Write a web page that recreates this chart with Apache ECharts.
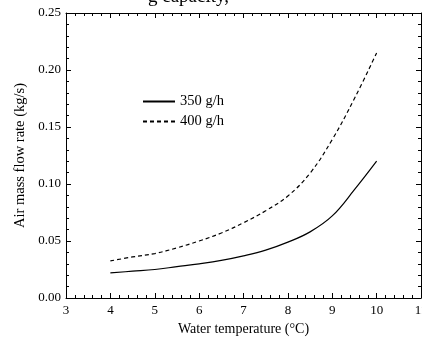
<!DOCTYPE html>
<html>
<head>
<meta charset="utf-8">
<script src="https://cdn.jsdelivr.net/npm/echarts@6/dist/echarts.min.js"></script>
<style>
  html, body { margin: 0; padding: 0; background: #fff; }
  #chart { width: 422px; height: 340px; }
</style>
</head>
<body>
<div id="chart"></div>
<script>
const temps = [4, 4.5, 5, 5.5, 6, 6.5, 7, 7.5, 8, 8.5, 9, 9.5, 10]
const flow350 = [0.022, 0.0235, 0.025, 0.0275, 0.030, 0.033, 0.037, 0.042, 0.049, 0.058, 0.072, 0.095, 0.120]
const flow400 = [0.0325, 0.036, 0.039, 0.044, 0.050, 0.057, 0.066, 0.0765, 0.0895, 0.1095, 0.139, 0.175, 0.215]
const seriesNames = ['350 g/h', '400 g/h']

const font = 'Liberation Serif'
const pair = (xs, ys) => xs.map((x, i) => [x, ys[i]])

const axisCommon = {
  axisLine: { show: true, onZero: false, lineStyle: { color: '#000', width: 1 } },
  axisTick: { show: true, inside: true, length: 5, lineStyle: { color: '#000' } },
  minorTick: { show: true, splitNumber: 5, length: 3, lineStyle: { color: '#000' } },
  splitLine: { show: false },
  minorSplitLine: { show: false }
}

const chart = echarts.init(document.getElementById('chart'))
chart.setOption({
  animation: false,
  textStyle: { fontFamily: font },
  grid: { left: 66, top: 13, right: 1, bottom: 42, outerBoundsMode: 'none', containLabel: false },
  graphic: [{
    type: 'text',
    left: 148, top: -12,
    style: { text: 'g capacity,', font: '19px "Liberation Serif"', fill: '#000' }
  }],
  legend: {
    orient: 'vertical', left: 137, top: 89,
    itemWidth: 32, itemHeight: 14, itemGap: 5,
    itemStyle: { opacity: 0 },
    textStyle: { fontFamily: font, fontSize: 14.5, color: '#000' },
    data: seriesNames
  },
  xAxis: [
    Object.assign({
      type: 'value', min: 3, max: 11, interval: 1, position: 'bottom',
      name: 'Water temperature (°C)', nameLocation: 'middle', nameGap: 24,
      nameTextStyle: { fontFamily: font, fontSize: 14, color: '#000' },
      axisLabel: { fontFamily: font, fontSize: 13, color: '#000', margin: 6 }
    }, axisCommon),
    Object.assign({
      type: 'value', min: 3, max: 11, interval: 1, position: 'top',
      axisLabel: { show: false }
    }, axisCommon)
  ],
  yAxis: [
    Object.assign({
      type: 'value', min: 0, max: 0.25, interval: 0.05, position: 'left',
      name: 'Air mass flow rate (kg/s)', nameLocation: 'middle', nameGap: 38,
      nameTextStyle: { fontFamily: font, fontSize: 14.5, color: '#000' },
      axisLabel: { fontFamily: font, fontSize: 13, color: '#000', margin: 5,
        formatter: v => v.toFixed(2) }
    }, axisCommon),
    Object.assign({
      type: 'value', min: 0, max: 0.25, interval: 0.05, position: 'right',
      axisLabel: { show: false }
    }, axisCommon)
  ],
  series: [
    {
      name: seriesNames[0], type: 'line', data: pair(temps, flow350),
      smooth: 0.4, symbol: 'none',
      lineStyle: { color: '#000', width: 1.2, type: 'solid' },
      itemStyle: { color: '#000' }
    },
    {
      name: seriesNames[1], type: 'line', data: pair(temps, flow400),
      smooth: 0.4, symbol: 'none',
      lineStyle: { color: '#000', width: 1.2, type: [4, 3] },
      itemStyle: { color: '#000' }
    }
  ]
})
</script>
</body>
</html>
